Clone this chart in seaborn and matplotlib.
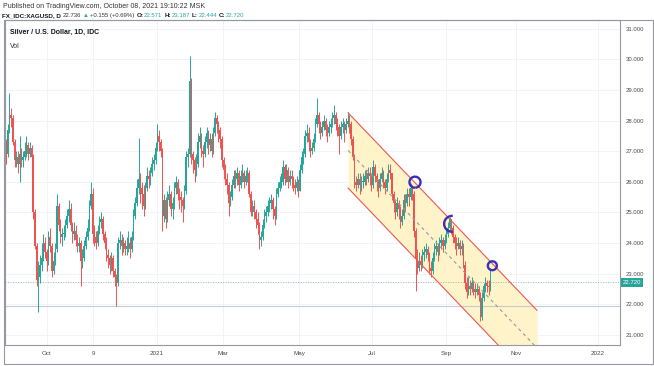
import matplotlib
matplotlib.use("Agg")
import matplotlib.pyplot as plt
import matplotlib.transforms as mtrans
from matplotlib.patches import Arc, Rectangle
import numpy as np
import pandas as pd
import seaborn as sns

# daily closes, XAGUSD, late Aug 2020 -> Oct 8 2021
close = [
    26.9, 27.7, 28.2, 28.1, 27.3, 26.7, 26.8, 26.6, 26.9, 26.7,
    26.8, 27.0, 27.2, 26.9, 27.1, 26.8, 25.0, 23.9, 22.8, 22.9,
    23.3, 23.5, 24.0, 23.7, 23.4, 24.2, 23.9, 23.1, 23.4, 23.8,
    25.2, 24.6, 24.2, 24.3, 24.3, 24.6, 24.9, 25.1, 24.6, 24.3,
    24.4, 24.1, 23.9, 24.0, 23.4, 23.5, 23.9, 24.2, 24.5, 25.2,
    25.6, 24.3, 24.2, 24.0, 24.4, 24.7, 24.8, 24.3, 24.0, 23.6,
    23.5, 23.3, 23.5, 23.1, 22.9, 22.7, 24.0, 24.1, 23.9, 24.0,
    23.8, 23.9, 24.0, 23.8, 24.2, 24.9, 25.3, 25.8, 26.1, 25.8,
    25.6, 25.2, 25.8, 26.2, 26.1, 26.3, 26.6, 26.7, 27.1, 27.5,
    27.3, 27.0, 24.9, 25.4, 24.8, 25.4, 25.6, 25.1, 25.3, 25.8,
    26.0, 25.6, 25.5, 25.4, 25.2, 25.7, 26.8, 26.9, 29.3, 26.9,
    26.7, 26.4, 26.6, 27.3, 27.5, 27.0, 26.9, 27.3, 27.6, 27.2,
    27.4, 27.0, 27.6, 28.1, 27.9, 27.7, 27.4, 26.7, 26.4, 26.1,
    25.9, 25.3, 25.5, 25.9, 26.2, 26.1, 26.3, 25.9, 26.2, 26.3,
    26.0, 26.2, 26.3, 25.6, 25.0, 25.2, 25.0, 24.8, 24.6, 24.1,
    24.2, 24.6, 24.9, 25.0, 25.2, 25.3, 25.4, 25.1, 24.9, 25.6,
    25.8, 26.0, 26.0, 26.5, 26.1, 26.4, 26.0, 26.2, 26.1, 25.9,
    25.8, 26.0, 25.7, 26.4, 26.8, 26.9, 27.5, 27.6, 27.3, 27.0,
    27.1, 27.4, 27.9, 28.2, 27.9, 27.6, 27.8, 28.0, 27.7, 27.6,
    27.8, 27.9, 28.1, 28.2, 27.9, 27.8, 27.5, 27.8, 27.9, 27.7,
    27.9, 28.0, 27.9, 27.4, 26.8, 26.0, 25.9, 26.1, 25.9, 26.0,
    26.0, 26.2, 26.1, 26.3, 26.2, 25.9, 26.5, 26.2, 26.0, 25.8,
    26.1, 26.3, 26.0, 25.8, 26.1, 26.4, 26.3, 25.6, 25.3, 25.0,
    25.3, 25.1, 24.7, 24.9, 25.4, 25.3, 25.6, 25.5, 25.8, 25.6,
    24.4, 23.5, 23.2, 23.4, 23.3, 23.6, 23.7, 23.8, 23.6, 23.2,
    23.1, 23.5, 23.8, 23.9, 23.7, 24.0, 24.1, 23.9, 24.1, 24.3,
    24.5, 24.8, 24.5, 24.2, 24.0, 23.9, 24.0, 23.8, 23.9, 23.3,
    22.7, 22.4, 22.6, 22.5, 22.7, 22.5, 22.4, 22.5, 22.3, 21.6,
    22.2, 22.6, 22.7, 22.6, 22.571, 22.72,
]
high = [
    27.4, 27.9, 28.9, 28.4, 28.2, 27.4, 27.0, 27.0, 27.5, 27.1,
    27.0, 27.3, 27.5, 27.3, 27.3, 27.2, 26.9, 25.1, 24.0, 23.4,
    23.6, 24.0, 24.3, 24.2, 23.8, 24.4, 24.5, 24.0, 23.7, 24.0,
    25.6, 25.3, 24.8, 24.5, 24.6, 24.8, 25.1, 25.4, 25.3, 24.7,
    24.7, 24.6, 24.3, 24.2, 24.1, 23.8, 24.1, 24.4, 24.8, 25.4,
    26.0, 25.8, 24.6, 24.4, 24.6, 24.9, 25.0, 24.9, 24.4, 24.2,
    23.8, 23.6, 23.7, 23.6, 23.2, 23.0, 24.2, 24.4, 24.3, 24.2,
    24.1, 24.2, 24.4, 24.2, 24.4, 25.1, 25.5, 26.1, 27.45, 26.3,
    26.0, 25.9, 26.0, 26.5, 26.4, 26.5, 26.8, 26.9, 27.3, 27.9,
    27.7, 27.4, 27.1, 25.6, 25.5, 25.7, 25.9, 25.7, 25.5, 26.0,
    26.2, 26.1, 25.8, 25.7, 25.5, 25.9, 27.0, 27.1, 30.1, 29.4,
    27.0, 26.8, 26.9, 27.6, 27.8, 27.6, 27.2, 27.5, 27.8, 27.7,
    27.6, 27.6, 27.8, 28.3, 28.2, 28.0, 27.8, 27.5, 26.8, 26.6,
    26.3, 26.0, 25.7, 26.1, 26.4, 26.4, 26.5, 26.4, 26.4, 26.6,
    26.4, 26.4, 26.5, 26.4, 25.7, 25.4, 25.4, 25.1, 25.0, 24.7,
    24.4, 24.8, 25.1, 25.2, 25.4, 25.5, 25.6, 25.5, 25.2, 25.8,
    26.0, 26.2, 26.3, 26.7, 26.6, 26.6, 26.5, 26.4, 26.4, 26.2,
    26.1, 26.2, 26.1, 26.6, 27.0, 27.1, 27.7, 27.9, 27.8, 27.4,
    27.3, 27.6, 28.1, 28.75, 28.3, 28.0, 28.0, 28.2, 28.1, 27.9,
    28.0, 28.1, 28.3, 28.5, 28.3, 28.1, 27.9, 28.0, 28.1, 28.0,
    28.1, 28.3, 28.2, 28.0, 27.5, 26.9, 26.2, 26.3, 26.3, 26.2,
    26.3, 26.4, 26.4, 26.5, 26.5, 26.3, 26.7, 26.6, 26.3, 26.1,
    26.3, 26.5, 26.4, 26.1, 26.3, 26.6, 26.6, 26.3, 25.7, 25.4,
    25.5, 25.4, 25.2, 25.1, 25.6, 25.6, 25.8, 25.8, 25.95, 25.9,
    25.7, 24.5, 23.8, 23.7, 23.6, 23.8, 23.9, 24.0, 23.9, 23.7,
    23.4, 23.7, 24.0, 24.1, 24.0, 24.2, 24.3, 24.2, 24.3, 24.5,
    24.7, 24.85, 24.8, 24.6, 24.3, 24.2, 24.2, 24.1, 24.1, 24.0,
    23.4, 22.9, 22.9, 22.8, 22.9, 22.8, 22.7, 22.7, 22.6, 22.4,
    22.4, 22.7, 22.9, 22.8, 22.8, 23.187,
]
low = [
    26.6, 26.8, 27.6, 27.8, 27.2, 26.5, 26.5, 26.3, 26.0, 26.5,
    26.5, 26.7, 26.8, 26.7, 26.8, 26.5, 24.8, 23.8, 22.6, 21.75,
    22.7, 23.1, 23.4, 23.5, 23.1, 23.3, 23.7, 22.9, 23.0, 23.3,
    23.7, 24.4, 24.0, 23.9, 24.1, 24.2, 24.5, 24.7, 24.4, 24.0,
    24.1, 23.9, 23.7, 23.7, 22.6, 23.2, 23.4, 23.8, 24.1, 24.4,
    25.1, 24.0, 23.9, 23.8, 23.9, 24.3, 24.5, 24.1, 23.8, 23.4,
    23.2, 23.0, 23.1, 22.9, 22.6, 21.95, 22.6, 23.8, 23.6, 23.7,
    23.6, 23.6, 23.7, 23.5, 23.7, 24.1, 24.8, 25.2, 25.6, 25.3,
    25.1, 24.9, 25.1, 25.7, 25.8, 25.9, 26.2, 26.4, 26.6, 27.0,
    27.0, 26.8, 24.4, 24.7, 24.5, 24.7, 25.2, 24.9, 24.8, 25.1,
    25.6, 25.4, 25.1, 25.0, 24.7, 25.1, 25.6, 26.5, 26.8, 26.6,
    26.3, 26.0, 26.2, 26.5, 27.1, 26.8, 26.5, 26.8, 27.1, 26.9,
    27.0, 26.8, 26.9, 27.5, 27.6, 27.3, 27.1, 26.5, 26.1, 25.9,
    25.6, 24.9, 25.2, 25.4, 25.8, 25.8, 25.9, 25.7, 25.8, 26.0,
    25.8, 25.9, 26.0, 25.5, 24.9, 24.9, 24.8, 24.5, 24.3, 23.8,
    23.9, 24.1, 24.5, 24.7, 24.9, 25.0, 25.1, 24.8, 24.6, 24.8,
    25.5, 25.7, 25.8, 25.9, 25.9, 26.0, 25.8, 25.9, 25.8, 25.7,
    25.6, 25.7, 25.5, 25.7, 26.3, 26.6, 26.8, 27.3, 27.0, 26.8,
    26.9, 27.0, 27.3, 27.8, 27.6, 27.4, 27.5, 27.7, 27.5, 27.3,
    27.5, 27.6, 27.8, 27.9, 27.7, 27.5, 26.9, 27.4, 27.6, 27.3,
    27.6, 27.8, 27.6, 27.2, 26.7, 25.8, 25.7, 25.8, 25.6, 25.7,
    25.8, 25.9, 25.9, 26.0, 25.9, 25.7, 25.8, 26.0, 25.7, 25.5,
    25.7, 26.0, 25.8, 25.6, 25.7, 26.0, 26.1, 25.4, 25.0, 24.8,
    24.9, 24.8, 24.5, 24.6, 24.8, 25.0, 25.2, 25.2, 25.4, 25.4,
    24.2, 22.45, 23.0, 23.1, 23.1, 23.2, 23.4, 23.5, 23.4, 23.0,
    22.9, 23.0, 23.4, 23.6, 23.4, 23.6, 23.8, 23.7, 23.8, 24.0,
    24.2, 24.4, 24.3, 24.0, 23.8, 23.6, 23.8, 23.6, 23.6, 23.2,
    22.5, 22.2, 22.3, 22.3, 22.4, 22.3, 22.2, 22.3, 22.1, 21.45,
    21.5, 22.1, 22.4, 22.4, 22.3, 22.444,
]
first_open = 27.3

# time axis labels (bar index where each label sits)
tick_pos = [24.1, 51.2, 88.8, 127.6, 172.4, 215.3, 258.8, 300.0, 348.2]
tick_lab = ["Oct", "9", "2021", "Mar", "May", "Jul", "Sep", "Nov", "2022"]
price_ticks = [21, 22, 23, 24, 25, 26, 27, 28, 29, 30, 31]

# parallel channel drawing (bar index, price)
chan_x = [201.2, 312.4]
chan_top = [28.26, 21.80]
chan_bot = [25.80, 19.34]

# hand drawn circles
circ_x = [240.6, 262.5, 286.1]
circ_y = [25.99, 24.63, 23.26]

last_price = 22.720
hline_price = 21.93

df = pd.DataFrame({"close": close, "high": high, "low": low})
df["open"] = df["close"].shift(1).fillna(first_open)
df["high"] = np.maximum(df["high"], np.maximum(df["open"], df["close"]))
df["low"] = np.minimum(df["low"], np.minimum(df["open"], df["close"]))
up = df["close"] >= df["open"]
green, red = "#26a69a", "#ef5350"
cols = np.where(up, green, red)

sns.set_theme(style="white")
plt.rcParams["font.family"] = ["Liberation Sans", "DejaVu Sans"]

W, H = 654, 366
fig = plt.figure(figsize=(W / 100, H / 100), dpi=100)
ax = fig.add_axes([5 / W, 1 - 345 / H, 615 / W, 325 / H])
ax.set_xlim(-0.59, 361.2)
ax.set_ylim(20.67, 31.29)

for p in price_ticks:
    ax.axhline(p, color="#f0f3fa", lw=0.7, zorder=0)
for t in tick_pos:
    ax.axvline(t, color="#f0f3fa", lw=0.7, zorder=0)

# channel
ax.fill_between(chan_x, chan_bot, chan_top, color="#fff4c9", lw=0, zorder=0.5)
sns.lineplot(x=chan_x, y=chan_top, ax=ax, color="#f05555", lw=0.8, zorder=3)
sns.lineplot(x=chan_x, y=chan_bot, ax=ax, color="#f05555", lw=0.8, zorder=3)
mid = [(a + b) / 2 for a, b in zip(chan_top, chan_bot)]
ax.plot(chan_x, mid, color="#9598a1", lw=0.8, ls=(0, (3, 3)), zorder=3)

# horizontal lines
ax.axhline(hline_price, color="#c8cad0", lw=0.8, zorder=1)
ax.axhline(last_price, color="#9ab8b4", lw=0.6, ls=(0, (1.5, 1.5)), zorder=1)

# candles
ax.vlines(df.index, df["low"], df["high"], colors=cols, lw=0.7, zorder=2)
body_lo = np.minimum(df["open"], df["close"])
body_h = np.maximum((df["close"] - df["open"]).abs(), 0.03)
ax.bar(df.index, body_h, bottom=body_lo, width=0.85, color=cols, lw=0, zorder=2)

# circles
sizes = [(6.5, 0.36, -50, 285), (9.5, 0.52, 40, 320), (5.3, 0.29, 0, 360)]
for cx, cy, (w, h, t1, t2) in zip(circ_x, circ_y, sizes):
    ax.add_patch(Arc((cx, cy), w, h, theta1=t1, theta2=t2, color="#3b2fb5", lw=1.7, zorder=5))

# axes cosmetics
ax.yaxis.tick_right()
ax.set_yticks(price_ticks)
ax.set_yticklabels([f"{p:.3f}" for p in price_ticks], fontsize=4.3, color="#4a4a4a")
ax.set_xticks(tick_pos)
ax.set_xticklabels(tick_lab, fontsize=4.5, color="#4a4a4a")
ax.tick_params(axis="both", length=0)
ax.tick_params(axis="y", pad=4)
ax.tick_params(axis="x", pad=4)
ax.set_xlabel("")
ax.set_ylabel("")
for s in ax.spines.values():
    s.set_color("#9598a1")
    s.set_linewidth(0.8)

trans = mtrans.blended_transform_factory(ax.transAxes, ax.transData)
ax.text(1.004, last_price, "22.720", transform=trans, ha="left", va="center",
        fontsize=4.3, color="white",
        bbox=dict(boxstyle="square,pad=0.3", fc=green, ec="none"))

fig.add_artist(Rectangle((4 / W, 2 / H), 649 / W, 344 / H, transform=fig.transFigure,
                         fill=False, ec="#9598a1", lw=0.8))

# header
fig.text(3 / W, 1 - 6 / H, "Published on TradingView.com, October 08, 2021 19:10:22 MSK",
         fontsize=5, color="#333333", va="center")

# second header line: pieces laid out one after another
parts = [
    ("FX_IDC:XAGUSD, D", "#131722", "bold", 0),
    ("22.736", "#333333", "normal", 2),
    ("▲", green, "normal", 1.5),
    ("+0.155 (+0.69%)", "#333333", "normal", 1.5),
    ("O:", "#131722", "bold", 2),
    ("22.571", green, "normal", 0.5),
    ("H:", "#131722", "bold", 2),
    ("23.187", green, "normal", 0.5),
    ("L:", "#131722", "bold", 2),
    ("22.444", green, "normal", 0.5),
    ("C:", "#131722", "bold", 2),
    ("22.720", green, "normal", 0.5),
]
renderer = fig.canvas.get_renderer()
xpix = 2.0
for s, c, wgt, gap in parts:
    xpix += gap
    fs = 4.5 if wgt == "bold" else 4.3
    t = fig.text(xpix / W, 1 - 15.5 / H, s, fontsize=fs, color=c, weight=wgt, va="center")
    xpix += t.get_window_extent(renderer).width

fig.text(10 / W, 1 - 32 / H, "Silver / U.S. Dollar, 1D, IDC", fontsize=5,
         color="#131722", weight="bold", va="center")
fig.text(10 / W, 1 - 46 / H, "Vol", fontsize=5, color="#333333", va="center")

fig.savefig("out.png", dpi=100)
